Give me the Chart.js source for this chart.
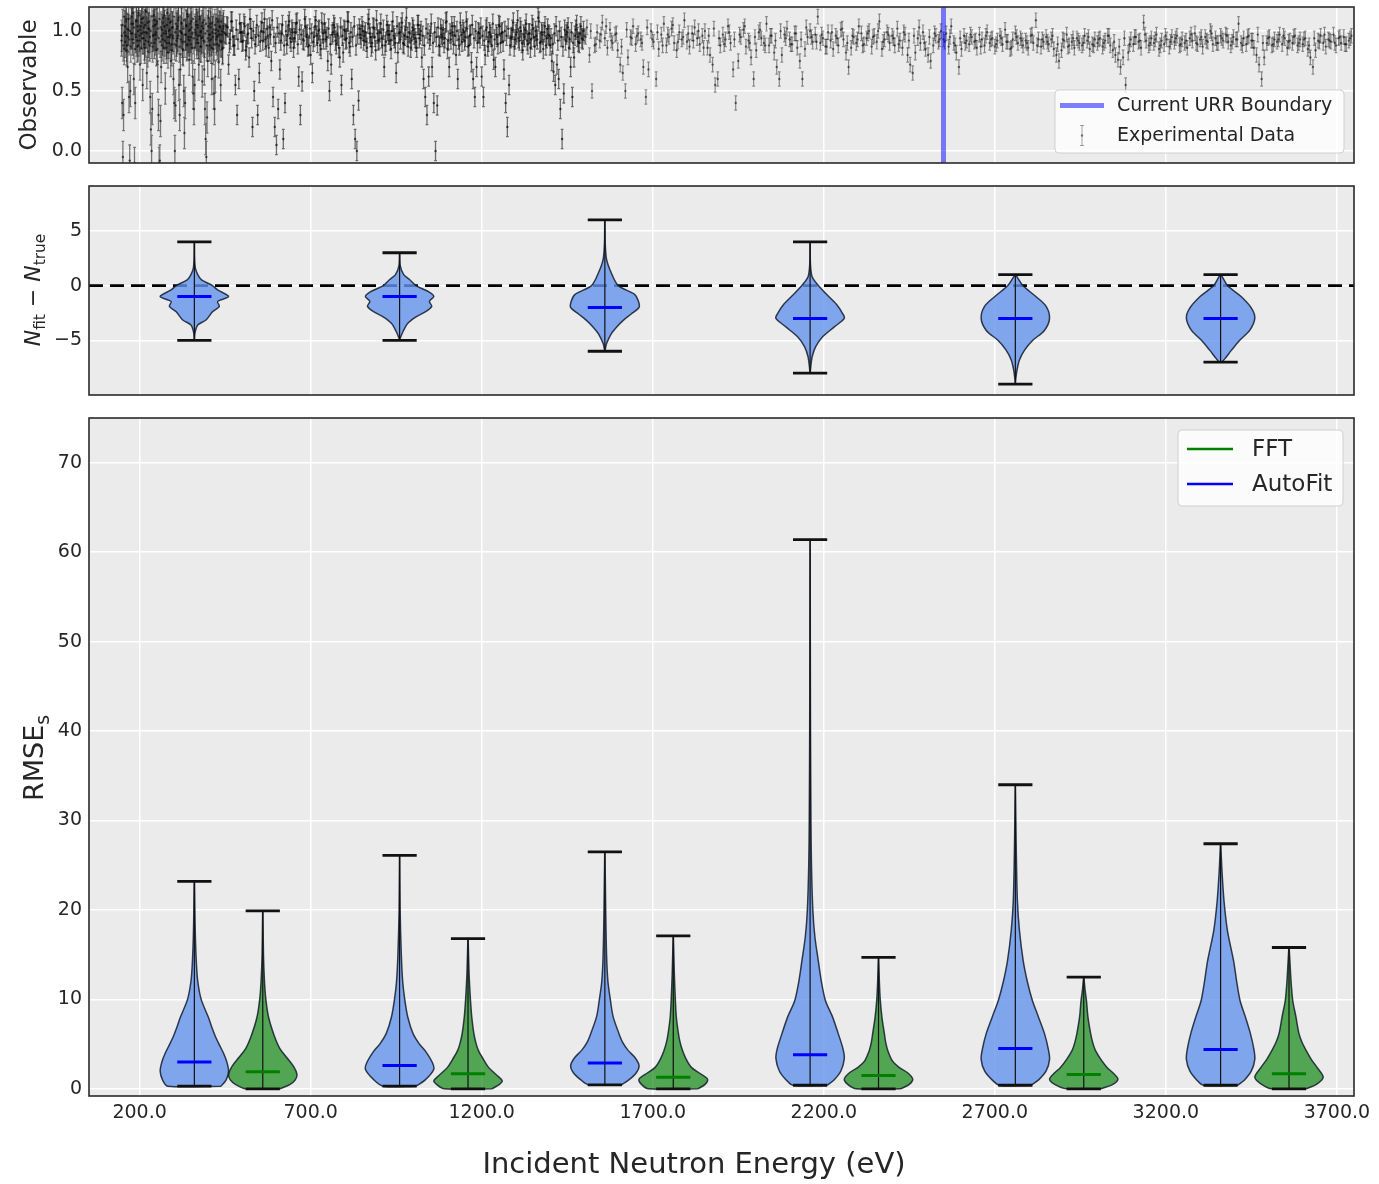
<!DOCTYPE html>
<html>
<head>
<meta charset="utf-8">
<script src="https://cdn.jsdelivr.net/npm/chart.js@4.4.1/dist/chart.umd.min.js"></script>
<style>
  body { margin: 0; background: #ffffff; }
  #wrap { position: relative; width: 1379px; height: 1184px; }
  canvas { position: absolute; left: 0; }
</style>
</head>
<body>
<div id="wrap">
  <canvas id="obsChart" width="1379" height="172" style="top:0px"></canvas>
  <canvas id="deltaChart" width="1379" height="226" style="top:178px"></canvas>
  <canvas id="rmseChart" width="1379" height="774" style="top:410px"></canvas>
</div>
<script>
// ---- data ----
const xMin = 52, xMax = 3750;
const xTicks = [200, 700, 1200, 1700, 2200, 2700, 3200, 3700];
const urrBoundary = 2550;

// experimental observable (values in %), energy grids in eV
const obsLowStart = 147, obsLowStep = 2, obsErrLow = 0.13;
const obsLow = [
  92, 40, -5, 30, 85, 104, 96, 110, 88, 70,
  101, 45, -8, 50, 98, 112, 93, 106, 60, -10,
  40, 95, 108, 87, 100, 115, 92, 72, 104, 98,
  110, 55, 94, 103, 86, 117, 99, 65, 107, 91,
  102, 88, 45, 18, 0, 35, 96, 113, 90, 105,
  97, 84, 108, 62, 30, -10, -8, 25, 70, 101,
  93, 111, 86, 104, 52, 98, 90, 115, 82, 100,
  95, 107, 75, 89, 103, 96, 60, 40, 0, 38,
  88, 102, 94, 109, 55, 30, 68, 99, 106, 91,
  84, 50, 15, 40, 97, 104, 89, 112, 93, 76,
  101, 95, 108, 86, 62, 48, 35, 55, 99, 105,
  90, 103, 96, 72, 110, 87, 100, 94, 58, 107,
  92, 68, 35, 10, -5, 28, 75, 104, 97, 88,
  106, 93, 60, 99, 85, 48, 35, 62, 101, 95,
  89, 108, 74, 97, 103, 55, 91, 100, 86, 104
];
const obsLowBStart = 148;
const obsLowB = [
  96, 105, 88, 112, 99, 91, 108, 84, 102, 95,
  110, 93, 100, 87, 106, 98, 115, 90, 103, 85,
  97, 109, 92, 104, 88, 113, 96, 101, 86, 107,
  94, 111, 99, 89, 105, 92, 116, 98, 83, 102,
  108, 95, 100, 90, 112, 87, 104, 97, 109, 93,
  99, 106, 85, 102, 94, 110, 91, 103, 96, 88,
  107, 98, 113, 92, 100, 86, 105, 95, 110, 90,
  101, 97, 108, 84, 103, 94, 112, 89, 99, 106,
  92, 104, 96, 111, 87, 100, 93, 107, 98, 85,
  102, 109, 91, 97, 105, 88, 114, 95, 100, 92,
  106, 89, 103, 98, 110, 94, 86, 101, 97, 108,
  93, 105, 90, 112, 96, 99, 87, 104, 95, 102,
  109, 91, 98, 106, 88, 100, 94, 111, 92, 97,
  103, 86, 107, 95, 101, 89, 105, 98, 93, 110,
  96, 100, 88, 104, 92, 108, 97, 85, 102, 99
];
const obsMidStart = 450, obsMidStep = 5, obsErrMid = 0.08;
const obsMid = [
  98, 104, 72, 93, 108, 88, 55, 30, 60, 99,
  91, 106, 84, 97, 78, 102, 20, 50, 95, 30,
  65, 100, 92, 110, 87, 96, 103, 75, 45, 20,
  5, 35, 68, 98, 10, 40, 89, 105, 94, 101,
  86, 99, 107, 62, 30, 58, 92, 104, 97, 88,
  80, 65, 95, 109, 90, 101, 85, 98, 106, 93,
  75, 50, 72, 99, 103, 89, 96, 78, 55, 82,
  100, 94, 108, 87, 60, 30, 10, 0, 42, 97,
  104, 92, 99, 86, 110, 95, 90, 102, 84, 98,
  93, 106, 88, 70, 91, 100, 97, 85, 108, 94,
  65, 82, 99, 103, 90, 96, 111, 87, 98, 92,
  101, 94, 86, 105, 97, 78, 60, 45, 30, 62,
  96, 70, 40, 0, 38, 88, 102, 95, 90, 107,
  85, 70, 93, 99, 104, 80, 60, 88, 97, 101,
  92, 108, 87, 96, 74, 60, 45, 70, 99, 94,
  62, 45, 80, 103, 91, 97, 88, 76, 70, 95,
  105, 90, 99, 68, 40, 20, 55, 94, 101, 87,
  97, 109, 92, 100, 84, 95, 106, 89, 98, 93,
  102, 87, 96, 111, 90, 99, 85, 104, 94, 97,
  88, 75, 66, 55, 72, 60, 35, 10, 48, 92,
  99, 86, 70, 45, 78, 101, 95, 90, 104, 93
];
const obsMidBStart = 452.5;
const obsMidB = [
  97, 103, 90, 108, 95, 88, 101, 93, 106, 99,
  92, 104, 87, 98, 110, 94, 100, 89, 105, 96,
  91, 107, 99, 93, 102, 86, 97, 109, 95, 90,
  103, 98, 92, 105, 88, 100, 96, 108, 91, 99,
  94, 106, 89, 101, 97, 93, 110, 95, 87, 102,
  98, 91, 104, 96, 100, 88, 107, 93, 99, 95,
  102, 89, 97, 105, 92, 98, 86, 103, 96, 101,
  93, 108, 90, 99, 95, 104, 88, 97, 102, 94,
  100, 96, 91, 106, 98, 87, 103, 95, 109, 92,
  99, 94, 101, 88, 105, 97, 92, 100, 96, 90,
  104, 98, 93, 107, 89, 101, 95, 99, 86, 103,
  97, 91, 105, 94, 100, 96, 88, 102, 98, 93,
  106, 90, 99, 95, 103, 87, 97, 101, 94, 108,
  92, 98, 104, 89, 96, 100, 93, 107, 91, 99,
  95, 102, 88, 97, 105, 94, 100, 90, 98, 103,
  96, 92, 101, 87, 99, 95, 106, 93, 97, 89,
  104, 98, 91, 100, 96, 102, 88, 95, 107, 93,
  99, 94, 103, 90, 97, 101, 92, 98, 86, 105,
  95, 100, 93, 108, 91, 97, 99, 88, 102, 96,
  94, 89, 98, 104, 92, 100, 95, 87, 101, 97,
  103, 93, 99, 90, 96, 105, 91, 98, 94, 100
];
const obsHighStart = 1500, obsHighStep = 7.5, obsErrHigh = 0.06;
const obsHigh = [
  96, 103, 80, 50, 88, 99, 92, 107, 94, 86,
  101, 90, 97, 84, 72, 65, 50, 78, 95, 104,
  89, 98, 93, 70, 45, 68, 100, 91, 60, 85,
  97, 106, 88, 95, 102, 90, 84, 99, 93, 109,
  91, 87, 98, 103, 94, 89, 96, 100, 86, 80,
  72, 55, 60, 88, 97, 93, 104, 90, 68, 40,
  75, 95, 101, 87, 92, 78, 60, 84, 99, 94,
  90, 106, 88, 96, 82, 70, 60, 80, 97, 102,
  93, 89, 98, 86, 75, 60, 85, 95, 100, 91,
  97, 112, 90, 94, 87, 99, 92, 85, 96, 88,
  101, 93, 82, 70, 86, 95, 90, 104, 98, 89,
  94, 100, 87, 96, 91, 108, 85, 93, 99, 90,
  96, 88, 102, 92, 86, 97, 80, 72, 65, 82,
  94, 90, 99, 85, 80, 75, 88, 96, 91, 100,
  93, 98, 87, 104, 90, 82, 70, 85, 96, 92,
  89, 95, 91, 86, 97, 93, 88, 99, 90, 94,
  87, 92, 96, 89, 101, 91, 85, 93, 98, 90,
  94, 88, 92, 86, 96, 90, 109, 93, 87, 91,
  95, 89, 93, 85, 80, 75, 84, 92, 97, 88,
  91, 86, 94, 90, 88, 96, 92, 85, 89, 93,
  90, 94, 87, 92, 96, 88, 84, 80, 76, 70,
  78, 55, 82, 93, 89, 95, 91, 86, 107, 92,
  88, 94, 90, 97, 85, 92, 89, 93, 87, 95,
  91, 96, 88, 93, 90, 86, 94, 92, 98, 89,
  93, 87, 95, 91, 100, 89, 94, 90, 96, 92,
  97, 91, 88, 95, 93, 106, 90, 94, 89, 96,
  92, 86, 80, 72, 60, 78, 90, 95, 88, 93,
  91, 97, 89, 94, 86, 92, 90, 96, 88, 93,
  89, 94, 85, 78, 70, 84, 92, 96, 90, 87,
  93, 91, 97, 88, 94, 90, 95, 89, 92, 96
];
const obsHighBStart = 1503.75, obsHighBStep = 15;
const obsHighB = [
  95, 100, 89, 97, 104, 92, 98, 87, 101, 94,
  96, 90, 103, 93, 99, 88, 97, 105, 91, 95,
  98, 92, 100, 86, 96, 102, 94, 89, 99, 93,
  97, 104, 90, 95, 101, 88, 96, 92, 100, 94,
  89, 98, 93, 103, 95, 91, 97, 87, 99, 94,
  102, 90, 96, 93, 88, 98, 95, 100, 91, 97,
  94, 89, 99, 92, 96, 103, 90, 95, 98, 93,
  91, 95, 88, 94, 90, 97, 92, 87, 96, 93,
  89, 94, 91, 86, 95, 92, 90, 97, 88, 93,
  91, 96, 89, 93, 87, 94, 92, 90, 95, 88,
  93, 90, 96, 91, 87, 94, 89, 95, 92, 97,
  90, 93, 88, 96, 91, 94, 89, 92, 97, 90,
  95, 92, 98, 90, 94, 96, 91, 93, 88, 95,
  92, 97, 90, 94, 89, 93, 96, 91, 95, 90,
  93, 88, 94, 91, 97, 92, 90, 95, 89, 94
];

// N_fit - N_true violins
const violinWidth = 200; // eV, full width of the widest part
const deltaPos = [360, 960, 1560, 2160, 2760, 3360];
const deltaMedian = [-1, -1, -2, -3, -3, -3];
const deltaMin = [-5, -5, -6, -8, -9, -7];
const deltaMax = [4, 3, 6, 4, 1, 1];
const deltaShapeY = [
  [-5, -4.3, -3.6, -3.15, -2.4, -1.9, -1.45, -1.0, -0.4, 0, 0.55, 1.0, 1.6, 2.5, 4],
  [-5, -4.8, -4.2, -3.45, -2.85, -2.4, -1.9, -1.45, -1.0, -0.6, 0, 0.55, 1.0, 1.8, 3],
  [-6, -5.7, -5.3, -4.4, -3.8, -3.2, -2.6, -2.0, -1.4, -0.8, 0, 1.15, 2.4, 4, 6],
  [-8, -7.4, -6.5, -5.6, -4.7, -3.8, -3.0, -2.6, -1.7, -0.8, 0, 0.8, 2, 4],
  [-9, -8.6, -7.7, -6.8, -5.9, -5.0, -4.1, -3.0, -1.9, -1.0, 0, 0.8, 1],
  [-7, -6.7, -5.9, -5.0, -4.1, -3.0, -2.1, -1.0, 0, 0.8, 1]
];
const deltaShapeW = [
  [0.003, 0.02, 0.1, 0.34, 0.53, 0.73, 0.68, 1.0, 0.68, 0.53, 0.2, 0.1, 0.03, 0.008, 0.003],
  [0.003, 0.02, 0.1, 0.24, 0.48, 0.75, 0.94, 0.87, 1.0, 0.87, 0.48, 0.29, 0.12, 0.02, 0.003],
  [0.003, 0.02, 0.05, 0.19, 0.34, 0.53, 0.77, 1.0, 0.98, 0.87, 0.39, 0.19, 0.05, 0.01, 0.003],
  [0.003, 0.02, 0.06, 0.16, 0.36, 0.7, 1.0, 0.96, 0.77, 0.48, 0.24, 0.06, 0.01, 0.003],
  [0.003, 0.01, 0.05, 0.12, 0.27, 0.51, 0.85, 1.0, 0.9, 0.6, 0.22, 0.05, 0.003],
  [0.03, 0.12, 0.32, 0.56, 0.85, 1.0, 0.91, 0.6, 0.2, 0.05, 0.003]
];

// RMSE_s violins
const autoPos = [360, 960, 1560, 2160, 2760, 3360];
const autoMedian = [3.0, 2.6, 2.9, 3.8, 4.5, 4.4];
const autoMin = [0.3, 0.3, 0.45, 0.4, 0.4, 0.4];
const autoMax = [23.2, 26.1, 26.5, 61.4, 34.0, 27.4];
const autoShapeY = [
  [0.3, 1, 2, 3, 4, 5, 6, 7, 8, 10, 12, 14, 17, 20, 23.2],
  [0.3, 1, 2.2, 3, 4.25, 5, 6.2, 8, 10, 12, 15, 20, 26.1],
  [0.45, 1, 1.8, 2.6, 3.5, 4.3, 5.2, 6.2, 8.1, 10, 12, 15, 20, 26.5],
  [0.4, 1, 2, 3.4, 4.5, 6.2, 8.1, 9.85, 12, 14.3, 17, 20, 25, 30, 40, 50, 61.4],
  [0.4, 1, 2, 3.3, 4.5, 6.2, 8.1, 9.85, 12, 14.3, 17.7, 21, 26, 30, 34],
  [0.4, 1, 2, 3.3, 4.5, 6.2, 8.1, 9.85, 12, 14.3, 17.7, 21, 24.4, 27.4]
];
const autoShapeW = [
  [0.78, 0.93, 1.0, 0.95, 0.85, 0.72, 0.6, 0.5, 0.41, 0.2, 0.1, 0.06, 0.03, 0.015, 0.004],
  [0.48, 0.75, 1.0, 0.95, 0.75, 0.58, 0.39, 0.24, 0.15, 0.09, 0.05, 0.015, 0.003],
  [0.48, 0.7, 0.92, 1.0, 0.88, 0.68, 0.52, 0.41, 0.24, 0.16, 0.09, 0.05, 0.025, 0.003],
  [0.5, 0.7, 0.9, 1.0, 0.96, 0.82, 0.65, 0.45, 0.33, 0.24, 0.14, 0.08, 0.04, 0.025, 0.012, 0.006, 0.002],
  [0.46, 0.68, 0.9, 1.0, 0.96, 0.85, 0.67, 0.5, 0.35, 0.23, 0.12, 0.06, 0.03, 0.015, 0.002],
  [0.5, 0.7, 0.9, 1.0, 0.97, 0.87, 0.72, 0.57, 0.47, 0.38, 0.2, 0.1, 0.04, 0.003]
];
const fftPos = [560, 1160, 1760, 2360, 2960, 3560];
const fftMedian = [1.9, 1.7, 1.3, 1.5, 1.6, 1.7];
const fftMin = [0, 0, 0, 0, 0, 0];
const fftMax = [19.9, 16.8, 17.1, 14.7, 12.5, 15.8];
const fftShapeY = [
  [0, 0.5, 1, 1.6, 2.5, 3.5, 4.5, 6, 8, 10, 12, 15, 19.9],
  [0, 0.5, 0.9, 1.5, 2.4, 3.3, 4.25, 5, 6.2, 8, 10, 13, 16.8],
  [0, 0.5, 1.1, 1.8, 2.4, 3.3, 4.3, 5.2, 6.2, 8, 10, 13, 17.1],
  [0, 0.5, 1.1, 1.8, 2.4, 3.1, 4.3, 5.2, 6.2, 8, 10, 12, 14.7],
  [0, 0.5, 1.1, 1.8, 2.4, 3.3, 4.3, 5.2, 6.2, 8.1, 9.85, 11, 12.5],
  [0, 0.5, 1.3, 2.4, 3.3, 4.3, 5.2, 6.2, 8.1, 9.85, 12, 14, 15.8]
];
const fftShapeW = [
  [0.5, 0.8, 0.95, 1.0, 0.9, 0.7, 0.5, 0.33, 0.17, 0.09, 0.05, 0.02, 0.003],
  [0.7, 0.92, 1.0, 0.85, 0.6, 0.45, 0.31, 0.24, 0.17, 0.11, 0.07, 0.03, 0.003],
  [0.72, 0.93, 1.0, 0.75, 0.53, 0.38, 0.27, 0.2, 0.15, 0.09, 0.06, 0.03, 0.003],
  [0.65, 0.9, 1.0, 0.85, 0.6, 0.41, 0.27, 0.21, 0.17, 0.1, 0.05, 0.025, 0.003],
  [0.5, 0.85, 1.0, 0.85, 0.68, 0.5, 0.34, 0.26, 0.2, 0.12, 0.08, 0.04, 0.003],
  [0.5, 0.8, 1.0, 0.82, 0.65, 0.5, 0.38, 0.29, 0.2, 0.11, 0.06, 0.03, 0.003]
];

// ---- styling ----
const fontFamily = "'DejaVu Sans', sans-serif";
const textColor = '#262626';
const blueFill = 'rgba(100,149,237,0.8)';
const greenFill = 'rgba(0,128,0,0.65)';
const violinEdge = 'rgba(20,28,45,0.85)';

// ---- helpers ----
function gridPoints(start, step, vals) {
  return vals.map((v, i) => ({x: start + i * step, y: v / 100}));
}
function errorBars(start, step, vals, err) {
  const pts = [];
  const cap = 4;
  vals.forEach((v, i) => {
    const x = start + i * step, y = v / 100;
    pts.push({x, y: y - err}, {x, y: y + err}, {x, y: null});
    pts.push({x: x - cap, y: y + err}, {x: x + cap, y: y + err}, {x, y: null});
    pts.push({x: x - cap, y: y - err}, {x: x + cap, y: y - err}, {x, y: null});
  });
  return pts;
}
function obsSets(start, step, vals, err, alpha, width) {
  return [
    {data: gridPoints(start, step, vals), pointRadius: 1.2, borderWidth: 0,
      backgroundColor: 'rgba(0,0,0,' + Math.min(1, alpha + 0.1) + ')', order: 1},
    lineSet(errorBars(start, step, vals, err), 'rgba(0,0,0,' + alpha + ')', width, 2)
  ];
}
function segs(list) {
  const pts = [];
  list.forEach(s => pts.push({x: s[0], y: s[1]}, {x: s[2], y: s[3]}, {x: s[0], y: null}));
  return pts;
}
function violinOutline(pos, ys, ws) {
  const half = violinWidth / 2;
  const right = ys.map((y, i) => ({x: pos + ws[i] * half, y}));
  const left = ys.map((y, i) => ({x: pos - ws[i] * half, y})).reverse();
  return right.concat(left, [right[0]]);
}
function violinSets(positions, shapeY, shapeW, fillColor) {
  return positions.map((p, i) => ({
    data: violinOutline(p, shapeY[i], shapeW[i]),
    showLine: true, fill: 'shape', tension: 0.3,
    backgroundColor: fillColor, borderColor: violinEdge, borderWidth: 1.5,
    pointRadius: 0, order: 5
  }));
}
function lineSet(data, color, width, order, extra) {
  return Object.assign({data, showLine: true, borderColor: color, borderWidth: width,
    pointRadius: 0, fill: false, order}, extra || {});
}
function capsOf(positions, mins, maxs) {
  const q = violinWidth / 4;
  const list = [];
  positions.forEach((p, i) => {
    list.push([p - q, mins[i], p + q, mins[i]], [p - q, maxs[i], p + q, maxs[i]]);
  });
  return segs(list);
}
function barsOf(positions, mins, maxs) {
  return segs(positions.map((p, i) => [p, mins[i], p, maxs[i]]));
}
function mediansOf(positions, meds) {
  const q = violinWidth / 4;
  return segs(positions.map((p, i) => [p - q, meds[i], p + q, meds[i]]));
}

const gridOpts = {color: '#ffffff', lineWidth: 1.5, drawTicks: false};
const tickFont = {family: fontFamily, size: 19};

function xScale(showLabels) {
  return {
    type: 'linear', min: xMin, max: xMax,
    afterBuildTicks: s => { s.ticks = xTicks.map(v => ({value: v})); },
    afterFit: s => { s.height = showLabels ? 88 : 0; },
    grid: gridOpts, border: {display: false},
    ticks: {display: showLabels, autoSkip: false, maxRotation: 0, padding: 6,
      color: textColor, font: tickFont, callback: v => v.toFixed(1)}
  };
}
function yScale(min, max, ticks, fmt, title) {
  return {
    type: 'linear', min, max,
    afterBuildTicks: s => { s.ticks = ticks.map(v => ({value: v})); },
    afterFit: s => { s.width = 89; s.paddingTop = 0; s.paddingBottom = 0; },
    grid: gridOpts, border: {display: false},
    ticks: {padding: 7, color: textColor, font: tickFont, callback: fmt},
    title: title || {display: false}
  };
}

const framePlugin = {
  id: 'frame',
  beforeDraw(chart) {
    const a = chart.chartArea, ctx = chart.ctx;
    ctx.save();
    ctx.fillStyle = '#ebebeb';
    ctx.fillRect(a.left, a.top, a.right - a.left, a.bottom - a.top);
    ctx.restore();
  },
  afterDraw(chart) {
    const a = chart.chartArea, ctx = chart.ctx;
    ctx.save();
    ctx.strokeStyle = '#2a2a2a';
    ctx.lineWidth = 1.6;
    ctx.strokeRect(a.left, a.top, a.right - a.left, a.bottom - a.top);
    ctx.restore();
  }
};

// text with optional italic / subscript parts, rotated or not
function richText(cx, cy, size, rotated, parts) {
  return {
    id: 'richText',
    afterDraw(chart) {
      const ctx = chart.ctx;
      const fontOf = p => (p.italic ? 'italic ' : '') + (p.sub ? size * 0.7 : size) + 'px ' + fontFamily;
      ctx.save();
      ctx.translate(cx, cy);
      if (rotated) ctx.rotate(-Math.PI / 2);
      ctx.fillStyle = textColor;
      ctx.textBaseline = 'alphabetic';
      let total = 0;
      parts.forEach(p => { ctx.font = fontOf(p); total += ctx.measureText(p.text).width; });
      let x = -total / 2;
      parts.forEach(p => {
        ctx.font = fontOf(p);
        ctx.fillText(p.text, x, size * 0.36 + (p.sub ? size * 0.22 : 0));
        x += ctx.measureText(p.text).width;
      });
      ctx.restore();
    }
  };
}

function boxLegend(box, size, items) {
  return {
    id: 'boxLegend',
    afterDraw(chart) {
      const ctx = chart.ctx;
      ctx.save();
      ctx.beginPath();
      ctx.roundRect(box.x, box.y, box.w, box.h, 4);
      ctx.fillStyle = 'rgba(255,255,255,0.8)';
      ctx.fill();
      ctx.strokeStyle = 'rgba(204,204,204,0.9)';
      ctx.lineWidth = 1;
      ctx.stroke();
      ctx.font = size + 'px ' + fontFamily;
      ctx.textBaseline = 'middle';
      items.forEach(it => {
        if (it.kind === 'line') {
          ctx.strokeStyle = it.color;
          ctx.lineWidth = it.width;
          ctx.beginPath();
          ctx.moveTo(it.x0, it.y);
          ctx.lineTo(it.x1, it.y);
          ctx.stroke();
        } else {
          const xm = (it.x0 + it.x1) / 2;
          ctx.strokeStyle = 'rgba(0,0,0,0.35)';
          ctx.lineWidth = 1;
          ctx.beginPath();
          ctx.moveTo(xm, it.y - 10); ctx.lineTo(xm, it.y + 10);
          ctx.moveTo(xm - 2, it.y - 10); ctx.lineTo(xm + 2, it.y - 10);
          ctx.moveTo(xm - 2, it.y + 10); ctx.lineTo(xm + 2, it.y + 10);
          ctx.stroke();
          ctx.fillStyle = 'rgba(0,0,0,0.45)';
          ctx.beginPath(); ctx.arc(xm, it.y, 1.2, 0, Math.PI * 2); ctx.fill();
        }
        ctx.fillStyle = textColor;
        ctx.fillText(it.label, it.tx, it.y + 1);
      });
      ctx.restore();
    }
  };
}

const baseOptions = (padding, scales) => ({
  responsive: false, animation: false,
  layout: {padding},
  plugins: {legend: {display: false}, tooltip: {enabled: false}},
  scales
});

// ---- top: observable ----
new Chart(document.getElementById('obsChart'), {
  type: 'scatter',
  data: {datasets: [
    lineSet([{x: urrBoundary, y: -0.1}, {x: urrBoundary, y: 1.2}], 'rgba(0,0,255,0.5)', 5, 0),
    ...obsSets(obsLowStart, obsLowStep, obsLow, obsErrLow, 0.5, 1.3),
    ...obsSets(obsLowBStart, obsLowStep, obsLowB, obsErrLow, 0.45, 1.2),
    ...obsSets(obsMidStart, obsMidStep, obsMid, obsErrMid, 0.55, 1.3),
    ...obsSets(obsMidBStart, obsMidStep, obsMidB, obsErrMid, 0.55, 1.3),
    ...obsSets(obsHighStart, obsHighStep, obsHigh, obsErrHigh, 0.42, 1.2),
    ...obsSets(obsHighBStart, obsHighBStep, obsHighB, obsErrHigh, 0.42, 1.2)
  ]},
  options: baseOptions({top: 7, right: 25, bottom: 9, left: 0}, {
    x: xScale(false),
    y: yScale(-0.1, 1.2, [0, 0.5, 1.0], v => v.toFixed(1),
      {display: true, text: 'Observable', color: textColor,
       font: {family: fontFamily, size: 23}, padding: {top: 16, bottom: 0}})
  }),
  plugins: [framePlugin, boxLegend({x: 1055, y: 90, w: 289, h: 63}, 19, [
    {kind: 'line', color: 'rgba(0,0,255,0.5)', width: 5, x0: 1060, x1: 1104, y: 105.5, tx: 1117, label: 'Current URR Boundary'},
    {kind: 'errorbar', x0: 1060, x1: 1104, y: 135.5, tx: 1117, label: 'Experimental Data'}
  ])]
});

// ---- middle: N_fit - N_true ----
new Chart(document.getElementById('deltaChart'), {
  type: 'scatter',
  data: {datasets: [
    lineSet(capsOf(deltaPos, deltaMin, deltaMax), '#111111', 2.8, 0),
    lineSet(mediansOf(deltaPos, deltaMedian), '#0000ff', 3, 0),
    lineSet(barsOf(deltaPos, deltaMin, deltaMax), '#111111', 1.2, 1),
    ...violinSets(deltaPos, deltaShapeY, deltaShapeW, blueFill),
    lineSet([{x: xMin, y: 0}, {x: xMax, y: 0}], '#000000', 2.6, 10, {borderDash: [14, 7]})
  ]},
  options: baseOptions({top: 8, right: 25, bottom: 9, left: 0}, {
    x: xScale(false),
    y: yScale(-10, 9.1, [-5, 0, 5], v => (v < 0 ? '\u2212' + Math.abs(v) : String(v)))
  }),
  plugins: [framePlugin, richText(32, 112, 22, true, [
    {text: 'N', italic: true}, {text: 'fit', sub: true}, {text: ' \u2212 '},
    {text: 'N', italic: true}, {text: 'true', sub: true}
  ])]
});

// ---- bottom: RMSE_s ----
new Chart(document.getElementById('rmseChart'), {
  type: 'scatter',
  data: {datasets: [
    lineSet(capsOf(autoPos, autoMin, autoMax), '#111111', 2.8, 0),
    lineSet(capsOf(fftPos, fftMin, fftMax), '#111111', 2.8, 0),
    lineSet(mediansOf(autoPos, autoMedian), '#0000ff', 3, 0),
    lineSet(mediansOf(fftPos, fftMedian), '#008000', 3, 0),
    lineSet(barsOf(autoPos, autoMin, autoMax), '#111111', 1.2, 1),
    lineSet(barsOf(fftPos, fftMin, fftMax), '#111111', 1.2, 1),
    ...violinSets(autoPos, autoShapeY, autoShapeW, blueFill),
    ...violinSets(fftPos, fftShapeY, fftShapeW, greenFill)
  ]},
  options: baseOptions({top: 8, right: 25, bottom: 0, left: 0}, {
    x: xScale(true),
    y: yScale(-0.8, 75, [0, 10, 20, 30, 40, 50, 60, 70], v => String(v))
  }),
  plugins: [framePlugin,
    richText(33, 348, 27, true, [{text: 'RMSE'}, {text: 's', sub: true}]),
    richText(694, 753, 29, false, [{text: 'Incident Neutron Energy (eV)'}]),
    boxLegend({x: 1178, y: 20, w: 165, h: 76}, 23, [
      {kind: 'line', color: '#008000', width: 2.5, x0: 1187, x1: 1233, y: 39, tx: 1252, label: 'FFT'},
      {kind: 'line', color: '#0000ff', width: 2.5, x0: 1187, x1: 1233, y: 74, tx: 1252, label: 'AutoFit'}
    ])]
});
</script>
</body>
</html>
